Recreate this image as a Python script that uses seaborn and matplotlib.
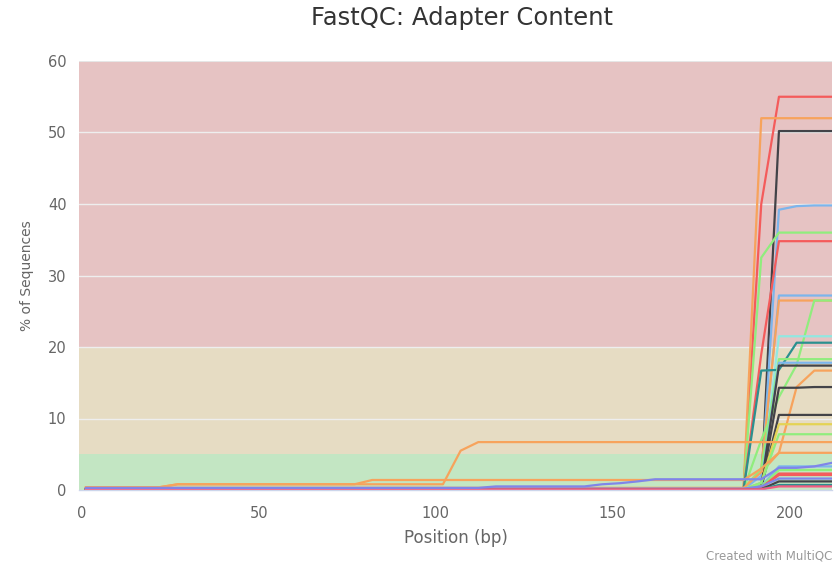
import matplotlib
matplotlib.use("Agg")
import matplotlib.pyplot as plt
import numpy as np
import pandas as pd
import seaborn as sns

# Highcharts-style palette used by MultiQC
BLUE, BLACK, GREEN, ORANGE = "#7cb5ec", "#434348", "#90ed7d", "#f7a35c"
PURPLE, PINK, YELLOW, TEAL = "#8085e9", "#f15c80", "#e4d354", "#2b908f"
RED, CYAN = "#f45b5b", "#91e8e1"

# FastQC base groups (mid-points of the grouped positions)
positions = [1, 2, 3, 4, 5, 6, 7, 8, 9,
             12, 17, 22, 27, 32, 37, 42, 47, 52, 57, 62, 67, 72, 77, 82,
             87, 92, 97, 102, 107, 112, 117, 122, 127, 132, 137, 142, 147,
             152, 157, 162, 167, 172, 177, 182, 187, 192, 197, 202, 207, 212]

# Each sample: (colour, [(position, % adapter) ...]); a value holds until the next listed position
samples = {
    "S01": (RED,    [(1, 0.2), (192, 40.0), (197, 55.0)]),
    "S02": (ORANGE, [(1, 0.2), (192, 52.0)]),
    "S03": (BLACK,  [(1, 0.1), (192, 0.3), (197, 50.2)]),
    "S04": (BLUE,   [(1, 0.1), (192, 0.5), (197, 39.2), (202, 39.7), (207, 39.8)]),
    "S05": (GREEN,  [(1, 0.1), (192, 32.5), (197, 36.0)]),
    "S06": (RED,    [(1, 0.1), (192, 19.0), (197, 34.8)]),
    "S07": (BLUE,   [(1, 0.1), (192, 2.0), (197, 27.2)]),
    "S08": (ORANGE, [(1, 0.2), (192, 3.0), (197, 26.5)]),
    "S09": (GREEN,  [(1, 0.1), (192, 7.0), (197, 13.0), (202, 17.5), (207, 26.5)]),
    "S10": (CYAN,   [(1, 0.1), (192, 1.0), (197, 21.5)]),
    "S11": (TEAL,   [(1, 0.1), (192, 16.7), (197, 16.8), (202, 20.6)]),
    "S12": (GREEN,  [(1, 0.1), (192, 3.0), (197, 18.3)]),
    "S13": (BLUE,   [(1, 0.1), (192, 1.0), (197, 17.8)]),
    "S14": (BLACK,  [(1, 0.1), (192, 0.5), (197, 17.4)]),
    "S15": (ORANGE, [(1, 0.3), (192, 2.5), (197, 5.2), (202, 14.4), (207, 16.7)]),
    "S16": (BLACK,  [(1, 0.1), (192, 0.3), (197, 14.3), (207, 14.4)]),
    "S17": (BLACK,  [(1, 0.1), (192, 0.3), (197, 10.5)]),
    "S18": (YELLOW, [(1, 0.1), (192, 1.0), (197, 9.2)]),
    "S19": (GREEN,  [(1, 0.1), (192, 1.0), (197, 7.8)]),
    "S20": (ORANGE, [(1, 0.4), (27, 0.8), (107, 5.5), (112, 6.7)]),
    "S21": (ORANGE, [(1, 0.4), (27, 0.8), (82, 1.4), (192, 3.0), (197, 5.2)]),
    "S22": (BLUE,   [(1, 0.1), (192, 0.5), (197, 3.3)]),
    "S23": (GREEN,  [(1, 0.1), (192, 0.5), (197, 2.8)]),
    "S24": (RED,    [(1, 0.1), (192, 0.3), (197, 2.3)]),
    "S25": (RED,    [(1, 0.1), (192, 0.3), (197, 2.1)]),
    "S26": (PURPLE, [(1, 0.2), (192, 0.5), (197, 1.6)]),
    "S27": (BLACK,  [(1, 0.1), (197, 1.2)]),
    "S28": (TEAL,   [(1, 0.1), (197, 0.7)]),
    "S29": (PINK,   [(1, 0.1), (197, 0.5)]),
    "S30": (PURPLE, [(1, 0.3), (97, 0.3), (117, 0.5), (147, 0.8), (152, 0.95),
                     (157, 1.2), (162, 1.5), (197, 3.1), (207, 3.3), (212, 3.8)]),
}

y_ticks = [0, 10, 20, 30, 40, 50, 60]
x_ticks = [0, 50, 100, 150, 200]
bands = [(0, 5, "#c3e6c3"), (5, 20, "#e6dcc3"), (20, 60, "#e6c3c3")]

rows = []
for name, (colour, levels) in samples.items():
    for p in positions:
        value = [v for (start, v) in levels if start <= p][-1]
        rows.append({"sample": name, "position": p, "percent": value})
df = pd.DataFrame(rows)
palette = {name: colour for name, (colour, _) in samples.items()}

sns.set_style("white")
plt.rcParams["font.family"] = ["DejaVu Sans"]

fig = plt.figure(figsize=(8.39, 5.67), dpi=100)
ax = fig.add_axes([79 / 839, 77 / 567, 753 / 839, 429 / 567])

for lo, hi, c in bands:
    ax.axhspan(lo, hi, color=c, lw=0, zorder=0)
for t in y_ticks[1:]:
    ax.axhline(t, color="#eeeeee" if t < 60 else "#e6e6e6", lw=1.0 if t < 60 else 1.5, zorder=1)

sns.lineplot(data=df, x="position", y="percent", hue="sample", palette=palette,
             estimator=None, sort=False, legend=False, lw=1.6, ax=ax, zorder=3)

ax.set_xlim(-0.9, 212.0)
ax.set_ylim(0, 60)
ax.set_xticks(x_ticks)
ax.set_yticks(y_ticks)
ax.tick_params(axis="x", colors="#ccd6eb", labelcolor="#666666", length=6.5,
               width=1, labelsize=10.5, pad=5)
ax.tick_params(axis="y", length=0, labelcolor="#666666", labelsize=10.5, pad=9)
for side in ["top", "right", "left"]:
    ax.spines[side].set_visible(False)
ax.spines["bottom"].set_color("#ccd6eb")
ax.spines["bottom"].set_linewidth(1)
ax.spines["bottom"].set_zorder(4)

ax.set_xlabel("Position (bp)", fontsize=12, color="#666666", labelpad=6)
ax.set_ylabel("% of Sequences", fontsize=10, color="#666666", labelpad=10)
fig.text(0.551, 0.968, "FastQC: Adapter Content", ha="center", va="center",
         fontsize=17.5, color="#333333")
fig.text(0.992, 0.008, "Created with MultiQC", ha="right", va="bottom",
         fontsize=8.5, color="#999999")

fig.savefig("out.png", dpi=100)
